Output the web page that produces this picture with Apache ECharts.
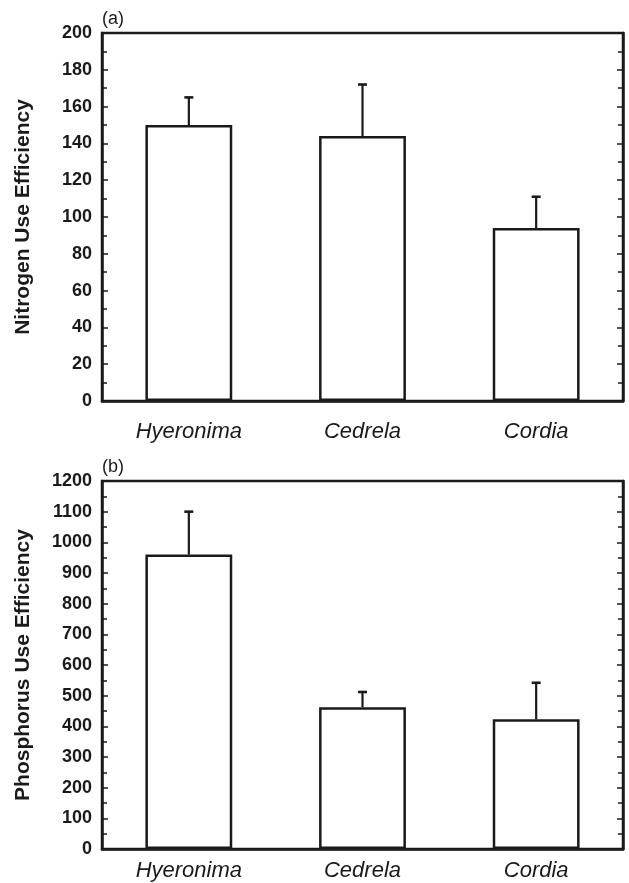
<!DOCTYPE html>
<html>
<head>
<meta charset="utf-8">
<script src="https://cdn.jsdelivr.net/npm/echarts@6/dist/echarts.min.js"></script>
<style>
html,body{margin:0;padding:0;background:#fff;}
#chart{width:629px;height:883px;}
</style>
</head>
<body>
<div id="chart"></div>
<script>
// ---- data ----
const categories = ['Hyeronima', 'Cedrela', 'Cordia'];
const nitrogenMean = [150, 144, 94];
const nitrogenUpper = [165, 172, 111];
const phosphorusMean = [960, 462, 423];
const phosphorusUpper = [1100, 512, 542];
const nitrogenTicks = { min: 0, max: 200, interval: 20 };
const phosphorusTicks = { min: 0, max: 1200, interval: 100 };

const FONT = '"Liberation Sans", Arial, sans-serif';
const INK = '#1a1a1a';

const chart = echarts.init(document.getElementById('chart'), null, { renderer: 'canvas' });

function errData(mean, upper) {
  return mean.map((m, i) => [i, m, upper[i]]);
}
function errRender(params, api) {
  const x = api.value(0);
  const lo = api.coord([x, api.value(1)]);
  const hi = api.coord([x, api.value(2)]);
  return {
    type: 'group',
    children: [
      { type: 'line', shape: { x1: lo[0], y1: lo[1], x2: hi[0], y2: hi[1] }, style: { stroke: INK, lineWidth: 2.2 } },
      { type: 'line', shape: { x1: hi[0] - 4.5, y1: hi[1], x2: hi[0] + 4.5, y2: hi[1] }, style: { stroke: INK, lineWidth: 2.6 } }
    ]
  };
}

const grids = [
  { left: 102, top: 33, width: 521, height: 368, show: true, borderColor: INK, borderWidth: 2.5, backgroundColor: 'transparent' },
  { left: 102, top: 481, width: 521, height: 368, show: true, borderColor: INK, borderWidth: 2.5, backgroundColor: 'transparent' }
];

function xAxis(gi, margin) {
  return {
    type: 'category', gridIndex: gi, data: categories,
    axisLine: { show: true, lineStyle: { color: INK, width: 2.5 } },
    axisTick: { show: false },
    axisLabel: { fontFamily: FONT, fontSize: 22, fontStyle: 'italic', color: INK, margin: margin },
    splitLine: { show: false }
  };
}
function yAxisLeft(gi, t, name) {
  return {
    type: 'value', gridIndex: gi, min: t.min, max: t.max, interval: t.interval,
    name: name, nameLocation: 'middle', nameGap: 68,
    nameTextStyle: { fontFamily: FONT, fontSize: 21, fontWeight: 'bold', color: INK },
    axisLine: { show: true, lineStyle: { color: INK, width: 2.5 } },
    axisTick: { show: true, inside: true, length: 6, lineStyle: { color: INK, width: 1.5 } },
    minorTick: { show: true, splitNumber: 2, length: 5, lineStyle: { color: INK, width: 1.5 } },
    axisLabel: { fontFamily: FONT, fontSize: 18, fontWeight: 'bold', color: INK, margin: 10,
      formatter: function (v) { return String(v); } },
    splitLine: { show: false }
  };
}
function yAxisRight(gi, t) {
  return {
    type: 'value', gridIndex: gi, position: 'right', min: t.min, max: t.max, interval: t.interval,
    axisLine: { show: true, lineStyle: { color: INK, width: 2.5 } },
    axisTick: { show: true, inside: true, length: 6, lineStyle: { color: INK, width: 1.5 } },
    minorTick: { show: true, splitNumber: 2, length: 5, lineStyle: { color: INK, width: 1.5 } },
    axisLabel: { show: false },
    splitLine: { show: false }
  };
}

const barStyle = { color: '#ffffff', borderColor: INK, borderWidth: 2.5 };

chart.setOption({
  animation: false,
  backgroundColor: '#ffffff',
  grid: grids,
  xAxis: [xAxis(0, 20), xAxis(1, 11)],
  yAxis: [
    yAxisLeft(0, nitrogenTicks, 'Nitrogen Use Efficiency'),
    yAxisRight(0, nitrogenTicks),
    yAxisLeft(1, phosphorusTicks, 'Phosphorus Use Efficiency'),
    yAxisRight(1, phosphorusTicks)
  ],
  graphic: [
    { type: 'text', left: 102, top: 10, style: { text: '(a)', fontFamily: FONT, fontSize: 18, fill: INK } },
    { type: 'text', left: 102, top: 458, style: { text: '(b)', fontFamily: FONT, fontSize: 18, fill: INK } }
  ],
  series: [
    { type: 'bar', xAxisIndex: 0, yAxisIndex: 0, data: nitrogenMean, barWidth: '50%', itemStyle: barStyle, z: 2 },
    { type: 'custom', xAxisIndex: 0, yAxisIndex: 0, data: errData(nitrogenMean, nitrogenUpper), renderItem: errRender, z: 3 },
    { type: 'bar', xAxisIndex: 1, yAxisIndex: 2, data: phosphorusMean, barWidth: '50%', itemStyle: barStyle, z: 2 },
    { type: 'custom', xAxisIndex: 1, yAxisIndex: 2, data: errData(phosphorusMean, phosphorusUpper), renderItem: errRender, z: 3 }
  ]
});
</script>
</body>
</html>
